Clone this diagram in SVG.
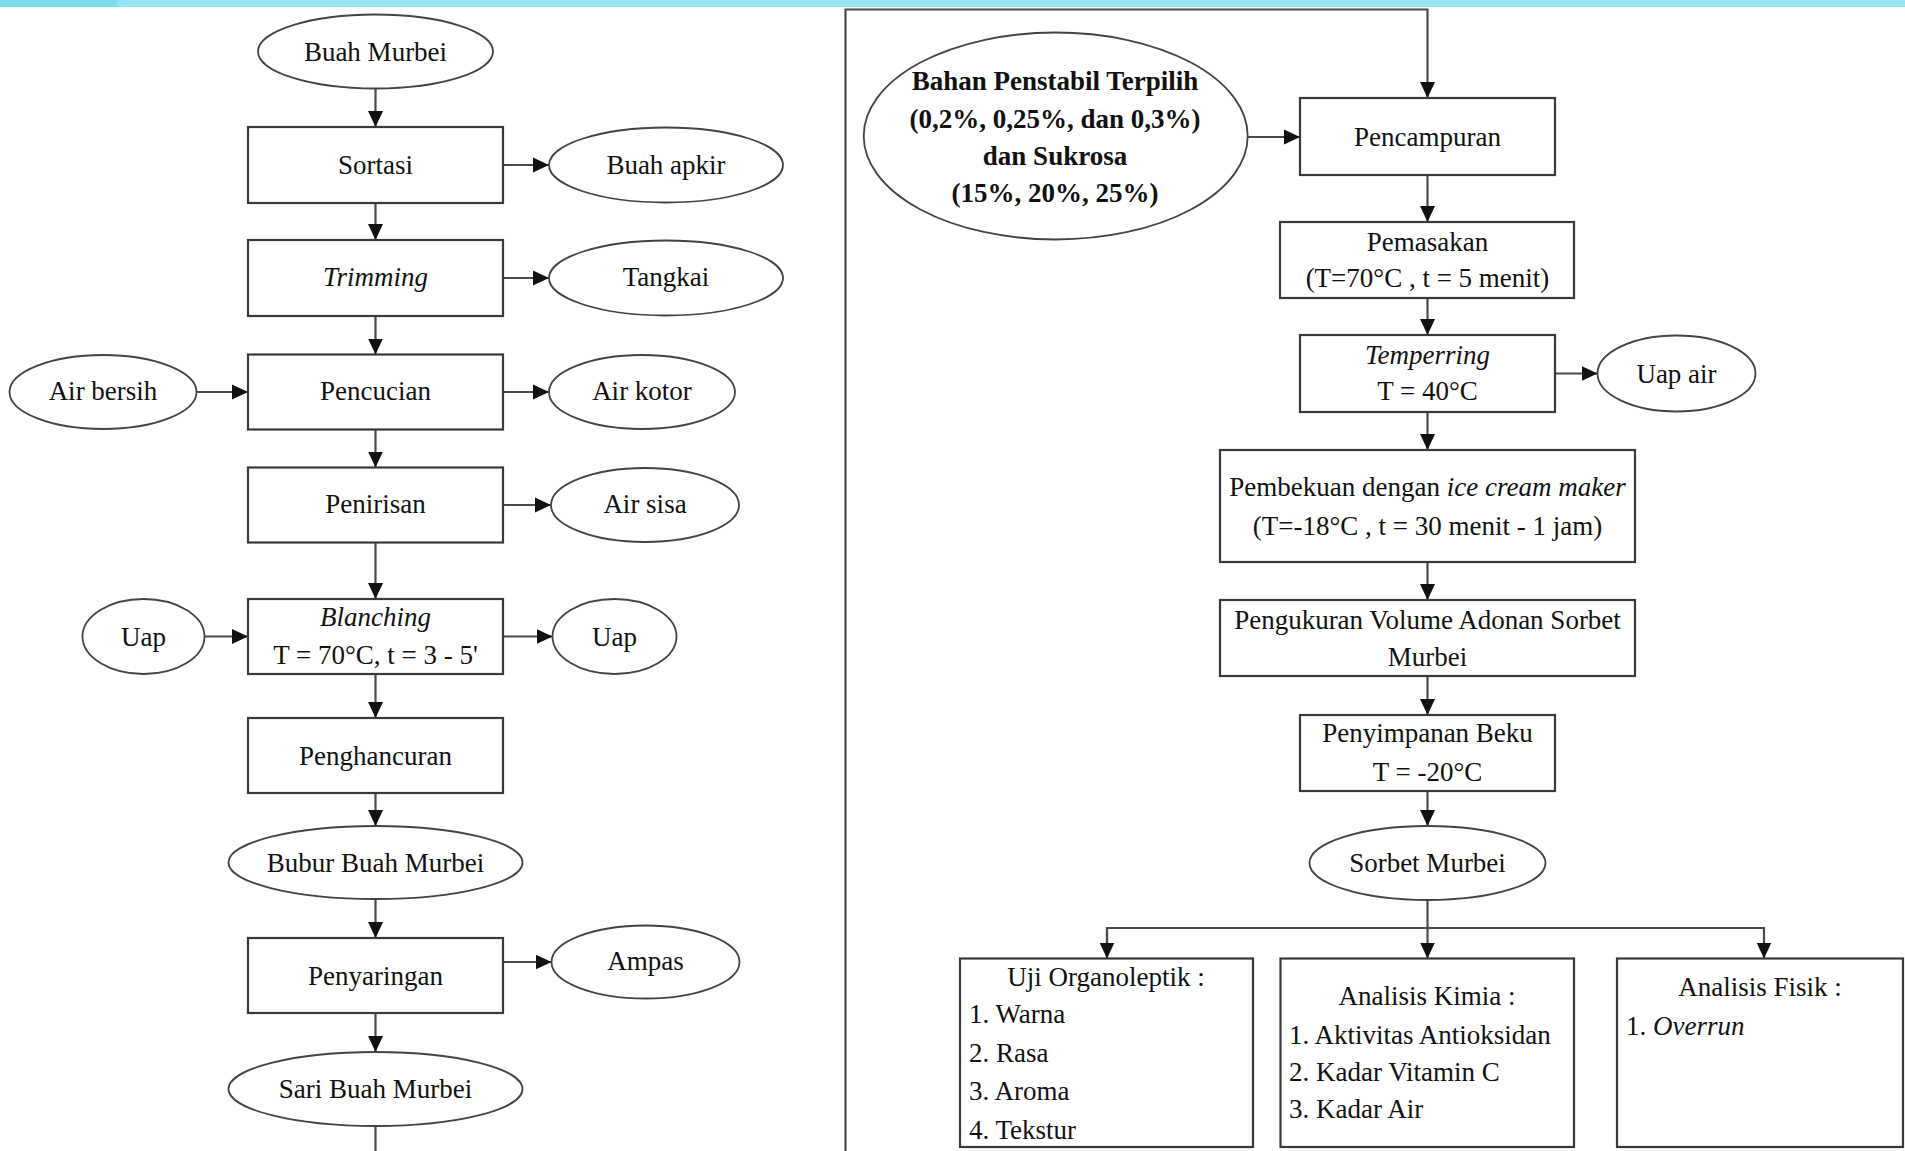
<svg xmlns="http://www.w3.org/2000/svg" width="1905" height="1151" viewBox="0 0 1905 1151">
<defs>
<style>
.bx{fill:#fff;stroke:#3a3a3a;stroke-width:2.2}
.el{fill:#fff;stroke:#444;stroke-width:1.8}
.cn{fill:none;stroke:#4a4a4a;stroke-width:2.2}
text{font-family:"Liberation Serif","Times New Roman",serif;font-size:27px;fill:#111}
.c{text-anchor:middle}
.i{font-style:italic}
.b{font-weight:bold}
</style>
<marker id="ah" markerWidth="16" markerHeight="16" refX="16" refY="8" orient="auto" markerUnits="userSpaceOnUse">
<path d="M0,0.5 L16,8 L0,15.5 z" fill="#111"/>
</marker>
</defs>
<rect x="0" y="0" width="1905" height="7" fill="#95e3f0"/>
<rect x="0" y="0" width="117" height="7" fill="#82d9ea"/>

<g id="connectors">
<path class="cn" d="M375.5,88.5 V127" marker-end="url(#ah)"/>
<path class="cn" d="M375.5,203 V240" marker-end="url(#ah)"/>
<path class="cn" d="M375.5,316 V354.5" marker-end="url(#ah)"/>
<path class="cn" d="M375.5,429.5 V467.5" marker-end="url(#ah)"/>
<path class="cn" d="M375.5,542.5 V599" marker-end="url(#ah)"/>
<path class="cn" d="M375.5,674 V718" marker-end="url(#ah)"/>
<path class="cn" d="M375.5,793 V826" marker-end="url(#ah)"/>
<path class="cn" d="M375.5,899 V938" marker-end="url(#ah)"/>
<path class="cn" d="M375.5,1013 V1052" marker-end="url(#ah)"/>
<path class="cn" d="M375.5,1126 V1152"/>
<path class="cn" d="M503,165 H549" marker-end="url(#ah)"/>
<path class="cn" d="M503,278 H549" marker-end="url(#ah)"/>
<path class="cn" d="M196.5,392 H248" marker-end="url(#ah)"/>
<path class="cn" d="M503,392 H549" marker-end="url(#ah)"/>
<path class="cn" d="M503,505 H551" marker-end="url(#ah)"/>
<path class="cn" d="M204.5,636.5 H248" marker-end="url(#ah)"/>
<path class="cn" d="M503,636.5 H552.5" marker-end="url(#ah)"/>
<path class="cn" d="M503,962 H551.5" marker-end="url(#ah)"/>
<path class="cn" d="M845.5,1152 V9.5 H1427.5 V98" marker-end="url(#ah)"/>
<path class="cn" d="M1247.7,137 H1300" marker-end="url(#ah)"/>
<path class="cn" d="M1427.5,175 V222" marker-end="url(#ah)"/>
<path class="cn" d="M1427.5,298 V335" marker-end="url(#ah)"/>
<path class="cn" d="M1555,373.5 H1597.5" marker-end="url(#ah)"/>
<path class="cn" d="M1427.5,412 V450" marker-end="url(#ah)"/>
<path class="cn" d="M1427.5,562 V600" marker-end="url(#ah)"/>
<path class="cn" d="M1427.5,676 V715" marker-end="url(#ah)"/>
<path class="cn" d="M1427.5,791 V826" marker-end="url(#ah)"/>
<path class="cn" d="M1427.5,900 V958.5" marker-end="url(#ah)"/>
<path class="cn" d="M1107,958.5 V928 H1764 V958.5" marker-end="url(#ah)"/>
<path class="cn" d="M1107,930 V958.5" marker-end="url(#ah)"/>
</g>

<g id="buah-murbei"><ellipse class="el" cx="375.5" cy="51.5" rx="117.5" ry="37"/><text class="c" x="375.5" y="61">Buah Murbei</text></g>
<g id="sortasi"><rect class="bx" x="248" y="127" width="255" height="76"/><text class="c" x="375.5" y="174">Sortasi</text></g>
<g id="buah-apkir"><ellipse class="el" cx="666" cy="165" rx="117" ry="37.5"/><text class="c" x="666" y="174">Buah apkir</text></g>
<g id="trimming"><rect class="bx" x="248" y="240" width="255" height="76"/><text class="c i" x="375.5" y="286">Trimming</text></g>
<g id="tangkai"><ellipse class="el" cx="666" cy="278" rx="117" ry="37.5"/><text class="c" x="666" y="286">Tangkai</text></g>
<g id="pencucian"><rect class="bx" x="248" y="354.5" width="255" height="75"/><text class="c" x="375.5" y="400">Pencucian</text></g>
<g id="air-bersih"><ellipse class="el" cx="103" cy="392" rx="93.5" ry="37"/><text class="c" x="103" y="400">Air bersih</text></g>
<g id="air-kotor"><ellipse class="el" cx="642" cy="392" rx="93" ry="37"/><text class="c" x="642" y="400">Air kotor</text></g>
<g id="penirisan"><rect class="bx" x="248" y="467.5" width="255" height="75"/><text class="c" x="375.5" y="513">Penirisan</text></g>
<g id="air-sisa"><ellipse class="el" cx="645" cy="505" rx="94" ry="37"/><text class="c" x="645" y="513">Air sisa</text></g>
<g id="blanching"><rect class="bx" x="248" y="599" width="255" height="75"/><text class="c i" x="375.5" y="626">Blanching</text><text class="c" x="375.5" y="664">T = 70°C, t = 3 - 5'</text></g>
<g id="uap-masuk"><ellipse class="el" cx="143.5" cy="636.5" rx="61" ry="37.5"/><text class="c" x="143.5" y="646">Uap</text></g>
<g id="uap-keluar"><ellipse class="el" cx="614.5" cy="636.5" rx="62" ry="37.5"/><text class="c" x="614.5" y="646">Uap</text></g>
<g id="penghancuran"><rect class="bx" x="248" y="718" width="255" height="75"/><text class="c" x="375.5" y="765">Penghancuran</text></g>
<g id="bubur"><ellipse class="el" cx="375.5" cy="862.5" rx="147" ry="36.5"/><text class="c" x="375.5" y="872">Bubur Buah Murbei</text></g>
<g id="penyaringan"><rect class="bx" x="248" y="938" width="255" height="75"/><text class="c" x="375.5" y="985">Penyaringan</text></g>
<g id="ampas"><ellipse class="el" cx="645.5" cy="962" rx="94" ry="36.5"/><text class="c" x="645.5" y="970">Ampas</text></g>
<g id="sari"><ellipse class="el" cx="375.5" cy="1089" rx="147" ry="37"/><text class="c" x="375.5" y="1098">Sari Buah Murbei</text></g>

<g id="bahan-penstabil"><ellipse class="el" cx="1055.7" cy="136" rx="192" ry="103.5"/>
<text class="c b" x="1055" y="90">Bahan Penstabil Terpilih</text>
<text class="c b" x="1055" y="128">(0,2%, 0,25%, dan 0,3%)</text>
<text class="c b" x="1055" y="165">dan Sukrosa</text>
<text class="c b" x="1055" y="201.5">(15%, 20%, 25%)</text></g>
<g id="pencampuran"><rect class="bx" x="1300" y="98" width="255" height="77"/><text class="c" x="1427.5" y="146">Pencampuran</text></g>
<g id="pemasakan"><rect class="bx" x="1280" y="222" width="294" height="76"/><text class="c" x="1427.5" y="251">Pemasakan</text><text class="c" x="1427.5" y="287">(T=70°C , t = 5 menit)</text></g>
<g id="temperring"><rect class="bx" x="1300" y="335" width="255" height="77"/><text class="c i" x="1427.5" y="364">Temperring</text><text class="c" x="1427.5" y="400">T = 40°C</text></g>
<g id="uap-air"><ellipse class="el" cx="1676.5" cy="373.5" rx="79" ry="38"/><text class="c" x="1676.5" y="383">Uap air</text></g>
<g id="pembekuan"><rect class="bx" x="1220" y="450" width="415" height="112"/><text class="c" x="1427.5" y="496">Pembekuan dengan <tspan class="i">ice cream maker</tspan></text><text class="c" x="1427.5" y="535">(T=-18°C , t = 30 menit - 1 jam)</text></g>
<g id="pengukuran"><rect class="bx" x="1220" y="600" width="415" height="76"/><text class="c" x="1427.5" y="629">Pengukuran Volume Adonan Sorbet</text><text class="c" x="1427.5" y="666">Murbei</text></g>
<g id="penyimpanan"><rect class="bx" x="1300" y="715" width="255" height="76"/><text class="c" x="1427.5" y="742">Penyimpanan Beku</text><text class="c" x="1427.5" y="781">T = -20°C</text></g>
<g id="sorbet"><ellipse class="el" cx="1427.5" cy="863" rx="118" ry="37"/><text class="c" x="1427.5" y="872">Sorbet Murbei</text></g>
<g id="uji-organoleptik"><rect class="bx" x="960" y="958.5" width="293" height="188.5"/>
<text class="c" x="1106" y="986">Uji Organoleptik :</text>
<text x="969" y="1023">1. Warna</text>
<text x="969" y="1061.5">2. Rasa</text>
<text x="969" y="1100">3. Aroma</text>
<text x="969" y="1138.5">4. Tekstur</text></g>
<g id="analisis-kimia"><rect class="bx" x="1280.5" y="958.5" width="293.5" height="188.5"/>
<text class="c" x="1427" y="1005">Analisis Kimia :</text>
<text x="1289" y="1043.5">1. Aktivitas Antioksidan</text>
<text x="1289" y="1080.5">2. Kadar Vitamin C</text>
<text x="1289" y="1118">3. Kadar Air</text></g>
<g id="analisis-fisik"><rect class="bx" x="1617" y="958.5" width="286" height="188.5"/>
<text class="c" x="1760" y="996">Analisis Fisik :</text>
<text x="1626" y="1035">1. <tspan class="i">Overrun</tspan></text></g>
</svg>
